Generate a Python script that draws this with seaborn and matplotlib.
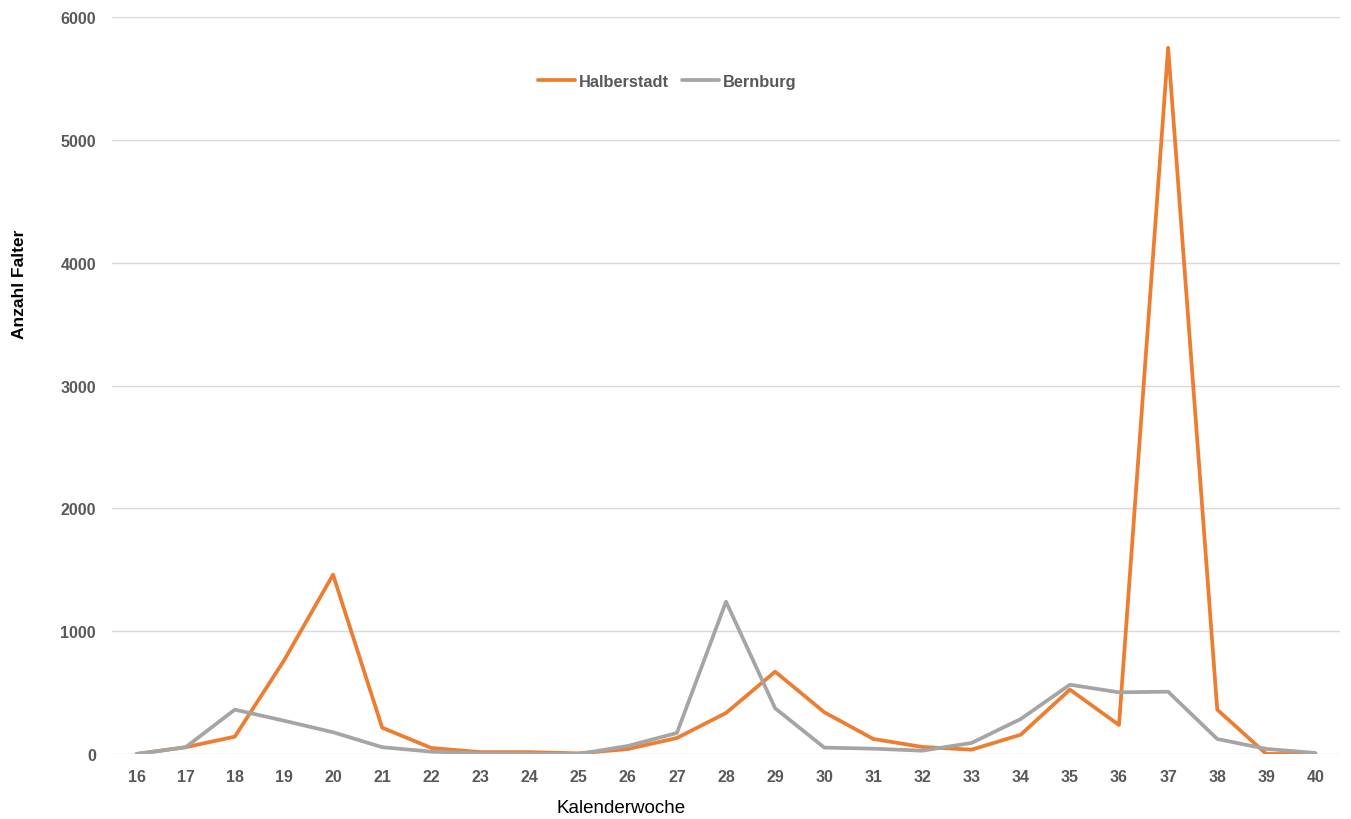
import matplotlib
matplotlib.use("Agg")
import matplotlib.pyplot as plt
import seaborn as sns
import pandas as pd

# Kalenderwochen und Fangzahlen je Standort
weeks = list(range(16, 41))
halberstadt = [0, 55, 141, 760, 1460, 214, 49, 15, 15, 5, 40, 130, 334, 670, 340,
               122, 57, 35, 157, 524, 236, 5750, 361, 0, 0]
bernburg = [0, 55, 361, 271, 177, 55, 19, 5, 3, 0, 65, 171, 1240, 372, 52,
            43, 27, 90, 285, 564, 502, 507, 122, 41, 8]
y_ticks = [0, 1000, 2000, 3000, 4000, 5000, 6000]

df = pd.DataFrame({
    "Kalenderwoche": weeks * 2,
    "Anzahl": halberstadt + bernburg,
    "Standort": ["Halberstadt"] * len(weeks) + ["Bernburg"] * len(weeks),
})

sns.set_theme(style="white")
plt.rcParams["font.family"] = ["Liberation Sans", "DejaVu Sans"]

fig = plt.figure(figsize=(13.51, 8.2), dpi=100)
ax = fig.add_axes([0.0829, 0.0793, 0.909, 0.8987])

sns.lineplot(data=df, x="Kalenderwoche", y="Anzahl", hue="Standort",
             palette={"Halberstadt": "#ED7D31", "Bernburg": "#A5A5A5"},
             linewidth=2.7, ax=ax, legend=True)

ax.set_xlim(15.5, 40.5)
ax.set_ylim(0, 6000)
ax.set_xticks(weeks)
ax.set_yticks(y_ticks)
ax.set_xticklabels([str(w) for w in weeks], fontsize=11.5, fontweight="bold", color="#595959")
ax.set_yticklabels([str(v) for v in y_ticks], fontsize=11.5, fontweight="bold", color="#595959")
ax.tick_params(axis="x", length=0, pad=11)
ax.tick_params(axis="y", length=0, pad=11.5)

ax.grid(axis="y", color="#d9d9d9", linewidth=1)
ax.set_axisbelow(True)
for s in ax.spines.values():
    s.set_visible(False)

ax.set_xlabel("Kalenderwoche", fontsize=13.5, color="black")
ax.xaxis.set_label_coords(0.4145, -0.0615)
ax.set_ylabel("Anzahl Falter", fontsize=12.5, fontweight="bold", color="black")
ax.yaxis.set_label_coords(-0.0695, 0.638)

leg = ax.legend(loc="center", bbox_to_anchor=(0.452, 0.913), ncol=2, frameon=False,
                handlelength=2.25, handletextpad=0.25, columnspacing=0.8,
                prop={"size": 11.8, "weight": "bold"})
for t in leg.get_texts():
    t.set_color("#595959")

fig.savefig("out.png", dpi=100)
